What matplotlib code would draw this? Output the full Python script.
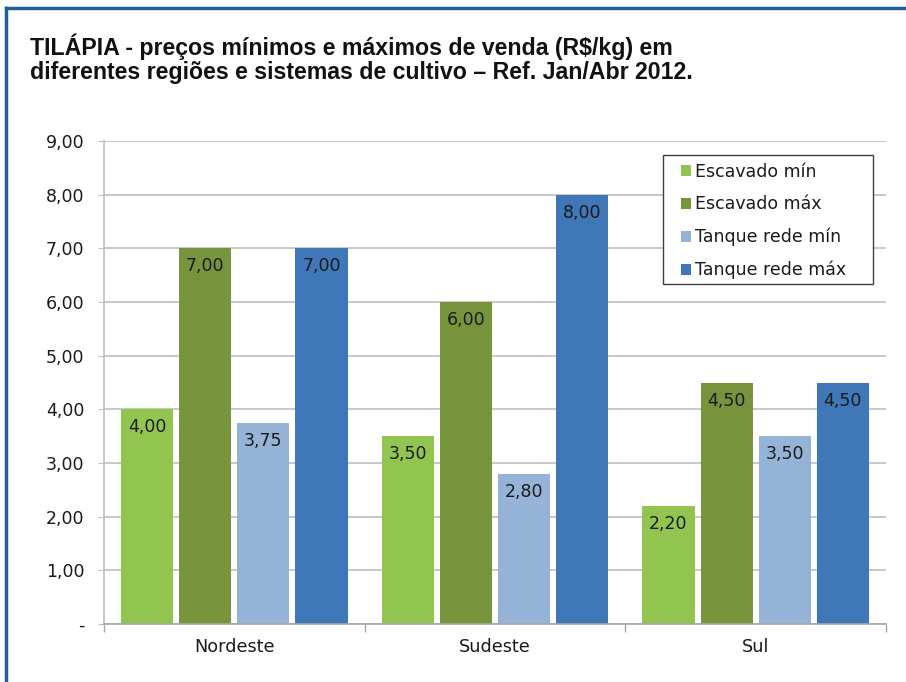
import matplotlib
matplotlib.use("Agg")
import matplotlib.pyplot as plt
from matplotlib.lines import Line2D
from matplotlib.patches import Patch, Rectangle
import numpy as np

categories = ["Nordeste", "Sudeste", "Sul"]
series_names = ["Escavado mín", "Escavado máx", "Tanque rede mín", "Tanque rede máx"]
escavado_min = [4.00, 3.50, 2.20]
escavado_max = [7.00, 6.00, 4.50]
tanque_min = [3.75, 2.80, 3.50]
tanque_max = [7.00, 8.00, 4.50]
yticks = [0, 1, 2, 3, 4, 5, 6, 7, 8, 9]
ytick_labels = ["-", "1,00", "2,00", "3,00", "4,00", "5,00", "6,00", "7,00", "8,00", "9,00"]
title_lines = ["TILÁPIA - preços mínimos e máximos de venda (R$/kg) em",
               "diferentes regiões e sistemas de cultivo – Ref. Jan/Abr 2012."]

colors = ["#92C54F", "#77933C", "#95B3D7", "#4077B8"]

plt.rcParams['font.family'] = ['DejaVu Sans']

W, H = 906, 682
fig = plt.figure(figsize=(W/100, H/100), dpi=100)
ax = fig.add_axes([104/W, 1-624/H, (886-104)/W, (624-141)/H])

x = np.arange(len(categories))
step = 0.223
width = 0.2
data = [escavado_min, escavado_max, tanque_min, tanque_max]
for i, (vals, c) in enumerate(zip(data, colors)):
    off = (i - 1.5) * step
    bars = ax.bar(x + off, vals, width=width, color=c, zorder=2)
    for b, v in zip(bars, vals):
        ax.annotate(f"{v:.2f}".replace(".", ","),
                    xy=(b.get_x() + b.get_width()/2, v), xytext=(0, -18),
                    textcoords="offset pixels", ha="center", va="center",
                    fontsize=12.5, color="#1a1a1a", zorder=3)

ax.set_xlim(-0.5, 2.5)
ax.set_ylim(0, 9)
ax.set_yticks(yticks)
ax.set_yticklabels(ytick_labels, fontsize=12.5, color="#1a1a1a")
ax.yaxis.grid(True, color="#bfbfbf", linewidth=1.2, zorder=0)
ax.set_axisbelow(True)
ax.set_xticks(x)
ax.set_xticklabels(categories, fontsize=12.7, color="#1a1a1a")
ax.tick_params(axis="x", length=0, pad=10)
ax.tick_params(axis="y", length=4.3, color="#bfbfbf", pad=10)
# category dividers
ax.set_xticks([-0.5, 0.5, 1.5, 2.5], minor=True)
ax.tick_params(axis="x", which="minor", length=6, color="#a6a6a6", width=1)
for s in ["top", "right"]:
    ax.spines[s].set_visible(False)
ax.spines["left"].set_color("#bfbfbf")
ax.spines["bottom"].set_color("#a6a6a6")
ax.spines["left"].set_linewidth(1.2)
ax.spines["bottom"].set_linewidth(1.2)

# legend frame drawn manually
fig.add_artist(Rectangle((663/W, 1-284/H), (873-663)/W, (284-155)/H,
                         transform=fig.transFigure, facecolor="white",
                         edgecolor="#404040", linewidth=1.0, zorder=4))
handles = [Patch(facecolor=c, edgecolor="none") for c in colors]
leg = fig.legend(handles, series_names, loc="upper left",
                 bbox_to_anchor=(681/W, 1-163/H),
                 fontsize=12.5, frameon=False,
                 handlelength=0.6, handleheight=0.6, handletextpad=0.2,
                 labelspacing=0.83, borderpad=0, borderaxespad=0)
leg.set_zorder(5)
for t in leg.get_texts():
    t.set_color("#1a1a1a")

fig.text(30/W, 1-47/H, title_lines[0], fontsize=16.7, fontweight="bold",
         family=["Liberation Sans", "DejaVu Sans"],
         ha="left", va="center", color="#111111")
fig.text(30/W, 1-73/H, title_lines[1], fontsize=16.7, fontweight="bold",
         family=["Liberation Sans", "DejaVu Sans"],
         ha="left", va="center", color="#111111")

# blue frame (top and left)
fig.add_artist(Line2D([6/W, 1.0], [1-8/H, 1-8/H], color="#1F5F9E", linewidth=2.5,
                      transform=fig.transFigure))
fig.add_artist(Line2D([6/W, 6/W], [0, 1-8/H], color="#1F5F9E", linewidth=2.5,
                      transform=fig.transFigure))

fig.savefig("out.png", dpi=100)
